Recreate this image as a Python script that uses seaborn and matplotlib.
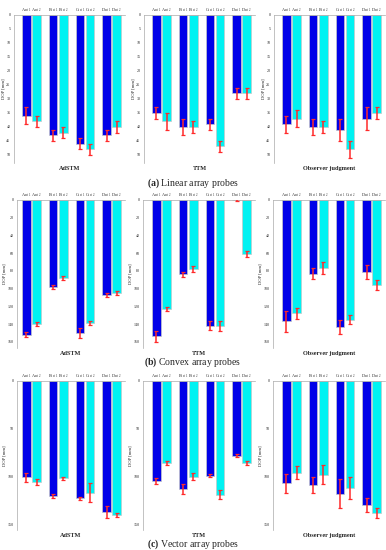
import pandas as pd
import matplotlib.pyplot as plt
import numpy as np
import seaborn as sns

letters = ['A', 'B', 'C', 'D']
sets = ['set 1', 'set 2']
methods = ['AdSTM', 'TTM', 'Observer judgment']

# DOP [mm], values per method: A1, A2, B1, B2, C1, C2, D1, D2
linear_adstm = [36, 38, 43, 42, 46, 48, 43, 40]
linear_adstm_err = [3, 2, 2, 2, 2, 2, 2, 2]
linear_ttm = [35, 38, 40, 40, 39, 47, 28, 28]
linear_ttm_err = [2, 3, 3, 2, 2, 2, 2, 2]
linear_obs = [39, 37, 40, 40, 41, 48, 37, 35]
linear_obs_err = [3, 3, 3, 2, 4, 3, 4, 2]

convex_adstm = [152, 140, 98, 88, 150, 139, 107, 105]
convex_adstm_err = [3, 2, 2, 2, 6, 2, 2, 2]
convex_ttm = [154, 123, 84, 78, 142, 142, 0, 61]
convex_ttm_err = [6, 2, 3, 3, 5, 6, 1, 3]
convex_obs = [137, 128, 83, 77, 143, 135, 81, 96]
convex_obs_err = [12, 6, 6, 7, 8, 5, 8, 6]

vector_adstm = [101, 106, 120, 102, 123, 117, 137, 140]
vector_adstm_err = [5, 3, 2, 2, 2, 10, 6, 2]
vector_ttm = [105, 86, 113, 100, 99, 119, 78, 86]
vector_ttm_err = [3, 2, 5, 4, 2, 5, 2, 2]
vector_obs = [107, 96, 109, 98, 118, 112, 130, 138]
vector_obs_err = [10, 7, 8, 10, 15, 12, 7, 5]

rows = [
    ('(a)', 'Linear array probes', [linear_adstm, linear_ttm, linear_obs],
     [linear_adstm_err, linear_ttm_err, linear_obs_err], 52.9, np.arange(0, 51, 5)),
    ('(b)', 'Convex array probes', [convex_adstm, convex_ttm, convex_obs],
     [convex_adstm_err, convex_ttm_err, convex_obs_err], 167, np.arange(0, 161, 20)),
    ('(c)', 'Vector array probes', [vector_adstm, vector_ttm, vector_obs],
     [vector_adstm_err, vector_ttm_err, vector_obs_err], 156, np.arange(0, 151, 50)),
]

sns.set_style('white')
plt.rcParams['font.family'] = ['Liberation Serif', 'DejaVu Serif']
plt.rcParams['mathtext.fontset'] = 'custom'
plt.rcParams['mathtext.rm'] = 'Liberation Serif'
plt.rcParams['mathtext.bf'] = 'Liberation Serif:bold'

W, H = 386, 550
fig = plt.figure(figsize=(W / 100, H / 100), dpi=100)

row_tops = [15, 200, 381]
row_bottoms = [163, 348, 530]
caption_y = [183, 362, 544]
col_lefts = [[14, 144, 274], [17, 143, 273], [17, 143, 273]]
group_px = 26.7  # pixels per group of two bars

palette = ['#0000e8', '#00f2f2']

for r, (tag, caption, values, errs, ymax, yticks) in enumerate(rows):
    for c in range(3):
        left_px = col_lefts[r][c]
        right_px = 125 + 130 * c
        ax = fig.add_axes([left_px / W, 1 - row_bottoms[r] / H,
                           (right_px - left_px) / W,
                           (row_bottoms[r] - row_tops[r]) / H])

        df = pd.DataFrame({
            'probe': [l for l in letters for s in sets],
            'set': [s for l in letters for s in sets],
            'dop': values[c],
            'err': errs[c],
        })
        sns.barplot(data=df, x='probe', y='dop', hue='set', palette=palette,
                    saturation=1, width=0.76, gap=0.16, errorbar=None,
                    edgecolor='#c8c8c8', linewidth=0.5, legend=False, ax=ax)

        bar_groups = list(ax.containers)
        centers, labels = [], []
        for k, cont in enumerate(bar_groups):
            sub = df[df['set'] == sets[k]]
            xs = [p.get_x() + p.get_width() / 2 for p in cont.patches]
            ax.errorbar(xs, sub['dop'], yerr=sub['err'], fmt='none',
                        ecolor='#ff2a2a', elinewidth=1.1, capsize=1.3,
                        capthick=0.9, zorder=5)
            centers += xs
            labels += [l + r'$_{\mathrm{set\ ' + sets[k][-1] + '}}$' for l in letters]

        ax.set_xlim(3.5 - (right_px - left_px) / group_px, 3.5)
        ax.set_ylim(ymax, 0)
        ax.set_yticks(yticks)
        ax.tick_params(axis='y', labelsize=3.0, length=1.5, width=0.4,
                       color='#999999', pad=1)
        ax.xaxis.tick_top()
        ax.set_xticks(centers)
        ax.set_xticklabels(labels)
        ax.tick_params(axis='x', labelsize=3.1, length=0, pad=1)
        ax.xaxis.set_label_position('bottom')
        ax.set_xlabel(methods[c], fontsize=4.5, fontweight='bold', labelpad=2)
        ax.set_ylabel('DOP [mm]', fontsize=3.3, labelpad=0.5)
        for side in ['right', 'bottom']:
            ax.spines[side].set_visible(False)
        for side in ['left', 'top']:
            ax.spines[side].set_color('#aaaaaa')
            ax.spines[side].set_linewidth(0.5)

    fig.text(0.5, 1 - caption_y[r] / H, r'$\mathbf{' + tag + '}$ ' + caption,
             ha='center', va='center', fontsize=7)

fig.savefig('out.png', dpi=100)
